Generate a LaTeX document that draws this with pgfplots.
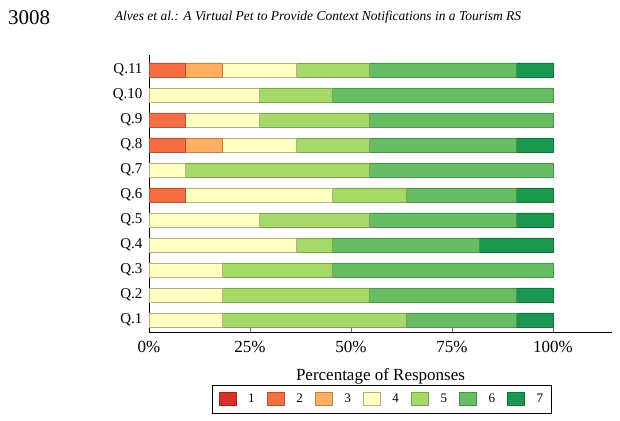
\documentclass[border=0pt]{standalone}
\usepackage{fontspec}
\setmainfont{Liberation Serif}
\usepackage{pgfplots}
\pgfplotsset{compat=1.18}

% Diverging 7-point Likert palette
\definecolor{l1}{HTML}{D73027}
\definecolor{l2}{HTML}{F46D43}
\definecolor{l3}{HTML}{FDAE61}
\definecolor{l4}{HTML}{FFFFBF}
\definecolor{l5}{HTML}{A6D96A}
\definecolor{l6}{HTML}{66BD63}
\definecolor{l7}{HTML}{1A9850}

% Share of responses (%) per answer level, n = 11 per question
\begin{document}
\begin{tikzpicture}
\path[use as bounding box] (0,0) rectangle (620bp,421bp);
\node[anchor=base west, inner sep=0pt, font=\fontsize{21bp}{24bp}\selectfont] at (8bp,396bp) {3008};
\node[anchor=base, inner sep=0pt, font=\fontsize{13.5bp}{16bp}\selectfont\itshape] at (318bp,400bp)
  {Alves et al.: A Virtual Pet to Provide Context Notifications in a Tourism RS};
\begin{axis}[
  at={(149bp,89bp)}, anchor=south west,
  scale only axis,
  width=463bp, height=277bp,
  xbar stacked,
  bar width=14bp,
  xmin=0, xmax=114.6,
  ymin=0.52, ymax=11.6,
  axis lines*=left,
  axis line style={line width=0.8bp},
  xtick={0,25,50,75,100},
  xticklabels={0\%,25\%,50\%,75\%,100\%},
  xtick align=inside,
  major tick length=4bp,
  xtick style={line width=0.5bp, black!60},
  ytick={1,...,11},
  yticklabels={Q.1,Q.2,Q.3,Q.4,Q.5,Q.6,Q.7,Q.8,Q.9\hspace{7bp},Q.10,Q.11},
  ytick style={draw=none},
  yticklabel style={font=\fontsize{15bp}{17bp}\selectfont, xshift=-3bp},
  xticklabel style={font=\fontsize{17bp}{19bp}\selectfont, yshift=-6bp},
  xlabel={Percentage of Responses},
  xlabel style={font=\fontsize{17bp}{19bp}\selectfont, at={(axis description cs:0.5,-0.159)}, anchor=center},
  legend columns=7,
  legend style={at={(0.503,-0.242)}, anchor=center, draw=black, line width=0.8bp,
    font=\fontsize{13bp}{15bp}\selectfont, inner xsep=6bp, inner ysep=7bp,
    /tikz/every odd column/.append style={column sep=10bp},
    /tikz/every even column/.append style={column sep=10bp}},
  legend image code/.code={\draw[#1, line width=0.6bp] (0bp,-6.5bp) rectangle (17bp,6.5bp);},
  every axis plot/.append style={line width=0.6bp},
]
\addplot[fill=l1, draw=l1!75!black] coordinates {(0,1) (0,2) (0,3) (0,4) (0,5) (0,6) (0,7) (0,8) (0,9) (0,10) (0,11)};
\addplot[fill=l2, draw=l2!75!black] coordinates {(0,1) (0,2) (0,3) (0,4) (0,5) (9.0909,6) (0,7) (9.0909,8) (9.0909,9) (0,10) (9.0909,11)};
\addplot[fill=l3, draw=l3!75!black] coordinates {(0,1) (0,2) (0,3) (0,4) (0,5) (0,6) (0,7) (9.0909,8) (0,9) (0,10) (9.0909,11)};
\addplot[fill=l4, draw=l4!70!black] coordinates {(18.1818,1) (18.1818,2) (18.1818,3) (36.3636,4) (27.2727,5) (36.3636,6) (9.0909,7) (18.1818,8) (18.1818,9) (27.2727,10) (18.1818,11)};
\addplot[fill=l5, draw=l5!75!black] coordinates {(45.4545,1) (36.3636,2) (27.2727,3) (9.0909,4) (27.2727,5) (18.1818,6) (45.4545,7) (18.1818,8) (27.2727,9) (18.1818,10) (18.1818,11)};
\addplot[fill=l6, draw=l6!75!black] coordinates {(27.2727,1) (36.3636,2) (54.5455,3) (36.3636,4) (36.3636,5) (27.2727,6) (45.4545,7) (36.3636,8) (45.4545,9) (54.5455,10) (36.3636,11)};
\addplot[fill=l7, draw=l7!75!black] coordinates {(9.0909,1) (9.0909,2) (0,3) (18.1818,4) (9.0909,5) (9.0909,6) (0,7) (9.0909,8) (0,9) (0,10) (9.0909,11)};
\legend{1,2,3,4,5,6,7}
\end{axis}
\end{tikzpicture}
\end{document}
